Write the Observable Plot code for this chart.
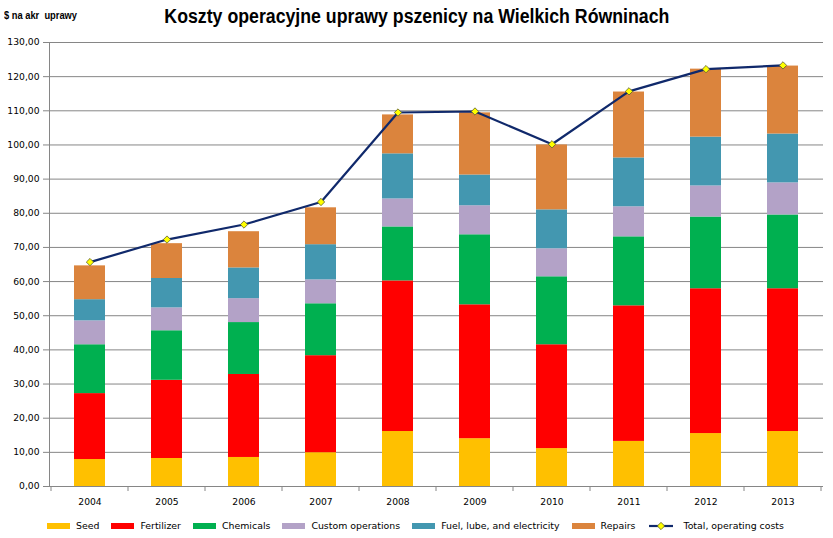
<!DOCTYPE html>
<html>
<head>
<meta charset="utf-8">
<script src="https://cdn.jsdelivr.net/npm/d3@7"></script>
<script src="https://cdn.jsdelivr.net/npm/@observablehq/plot@0.6"></script>
<style>
  html, body { margin: 0; padding: 0; background: #fff; }
  #wrap { position: relative; width: 833px; height: 538px; overflow: hidden; }
  #wrap svg { position: absolute; left: 0; top: 0; }
  #wrap svg text { fill: #000; }
  #title { position: absolute; left: 0; width: 833px; top: 4px; text-align: center;
           font-family: "Liberation Sans", sans-serif; font-weight: bold; font-size: 19.5px; line-height: 24px; white-space: nowrap; }
  #title span, #ylab span { display: inline-block; transform-origin: center center; }
  #ylab { position: absolute; left: 4px; top: 9px; font-family: "Liberation Sans", sans-serif; font-weight: bold; font-size: 10px; line-height: 13px; white-space: nowrap; }
  #ylab span { transform-origin: left center; }
  #legend { position: absolute; left: 47px; top: 519px; display: flex; align-items: center;
            font-family: "DejaVu Sans", sans-serif; font-size: 9.4px; line-height: 14px; white-space: nowrap; }
  .item { display: flex; align-items: center; margin-right: 12px; }
  .sw { width: 23px; height: 6px; margin-right: 6px; }
  .item svg { position: static !important; margin-right: 10px; }
</style>
</head>
<body>
<div id="wrap">
  <div id="title"><span>Koszty operacyjne uprawy pszenicy na Wielkich Równinach</span></div>
  <div id="ylab"><span>$ na akr&nbsp; uprawy</span></div>
  <div id="legend"></div>
</div>
<script>
const years = ["2004", "2005", "2006", "2007", "2008", "2009", "2010", "2011", "2012", "2013"];
const seriesNames = ["Seed", "Fertilizer", "Chemicals", "Custom operations", "Fuel, lube, and electricity", "Repairs"];
const seriesColors = ["#FFC000", "#FF0000", "#00B050", "#B3A2C7", "#4397B0", "#DB843D"];
const seed       = [7.9, 8.2, 8.5, 9.9, 16.1, 14.0, 11.1, 13.2, 15.5, 16.1];
const fertilizer = [19.3, 22.9, 24.3, 28.4, 44.1, 39.2, 30.4, 39.7, 42.4, 41.8];
const chemicals  = [14.3, 14.5, 15.2, 15.2, 15.8, 20.5, 19.9, 20.2, 21.0, 21.6];
const customOps  = [7.0, 6.7, 7.0, 7.0, 8.2, 8.5, 8.2, 8.8, 9.1, 9.4];
const fuel       = [6.2, 8.6, 9.0, 10.3, 13.2, 9.0, 11.4, 14.3, 14.3, 14.3];
const repairs    = [9.9, 10.2, 10.6, 10.8, 11.4, 18.2, 19.0, 19.3, 19.9, 19.9];
const totalName = "Total, operating costs";
const total      = [65.7, 72.3, 76.7, 83.3, 109.5, 109.8, 100.2, 115.7, 122.2, 123.3];
const yTicks = [0, 10, 20, 30, 40, 50, 60, 70, 80, 90, 100, 110, 120, 130];

const seriesValues = [seed, fertilizer, chemicals, customOps, fuel, repairs];
const rows = [];
seriesNames.forEach((name, s) => years.forEach((year, i) => rows.push({year, series: name, value: seriesValues[s][i]})));
const totals = years.map((year, i) => ({year, total: total[i]}));

const gridColor = "#868686";
const lineColor = "#10296B";

const chart = Plot.plot({
  width: 833,
  height: 538,
  marginTop: 42,
  marginBottom: 52,
  marginLeft: 49,
  marginRight: 10,
  style: {fontFamily: "DejaVu Sans, sans-serif", fontSize: "9.2px", color: gridColor, background: "transparent", overflow: "visible"},
  x: {domain: years, paddingInner: 0.6, paddingOuter: 0.3, tickSize: 0, tickPadding: 12, label: null},
  y: {domain: [0, 130], ticks: yTicks, tickFormat: d => d.toFixed(2).replace(".", ","), tickSize: 6, tickPadding: 4, label: null, line: true},
  color: {domain: seriesNames, range: seriesColors},
  marks: [
    Plot.ruleY(yTicks, {stroke: gridColor, strokeWidth: 1}),
    Plot.barY(rows, {x: "year", y: "value", fill: "series"}),
    Plot.line(totals, {x: "year", y: "total", stroke: lineColor, strokeWidth: 2.2}),
    Plot.dot(totals, {x: "year", y: "total", symbol: "diamond2", r: 3.3, fill: "#FFFF00", stroke: "#5a5a30", strokeWidth: 0.8})
  ]
});
document.getElementById("wrap").prepend(chart);

// x-axis boundary ticks between categories
const sx = chart.scale("x"), sy = chart.scale("y");
const y0 = sy.apply(0);
const gap = (sx.step - sx.bandwidth) / 2;
const bounds = years.map(y => sx.apply(y) - gap);
bounds.push(sx.apply(years[years.length - 1]) + sx.bandwidth + gap);
d3.select(chart).append("g").selectAll("line").data(bounds).join("line")
  .attr("x1", d => d).attr("x2", d => d).attr("y1", y0).attr("y2", y0 + 5)
  .attr("stroke", gridColor).attr("stroke-width", 1);

// legend
const legend = d3.select("#legend");
seriesNames.forEach((name, i) => {
  const it = legend.append("div").attr("class", "item");
  it.append("div").attr("class", "sw").style("background", seriesColors[i]);
  it.append("span").text(name);
});
const lt = legend.append("div").attr("class", "item");
const ls = lt.append("svg").attr("width", 26).attr("height", 10);
ls.append("line").attr("x1", 1).attr("x2", 25).attr("y1", 5).attr("y2", 5).attr("stroke", lineColor).attr("stroke-width", 2.2);
ls.append("path").attr("d", d3.symbol(d3.symbolDiamond2, 34)()).attr("transform", "translate(13,5)")
  .attr("fill", "#FFFF00").attr("stroke", "#5a5a30").attr("stroke-width", 0.8);
lt.append("span").text(totalName);

// fit title widths to reference
function fit(sel, target) {
  const el = document.querySelector(sel);
  const w = el.getBoundingClientRect().width;
  el.style.transform = `scaleX(${target / w})`;
}
fit("#title span", 505);
fit("#ylab span", 73);
</script>
</body>
</html>
